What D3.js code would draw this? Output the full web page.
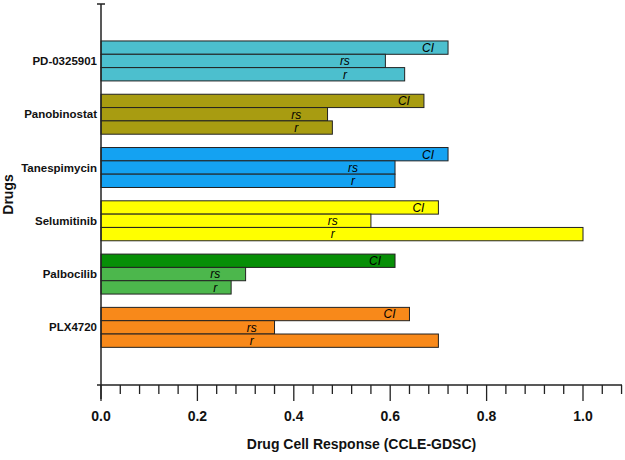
<!DOCTYPE html>
<html>
<head>
<meta charset="utf-8">
<script src="https://cdn.jsdelivr.net/npm/d3@7"></script>
<style>
  html, body { margin: 0; padding: 0; background: #fff; }
  svg { display: block; font-family: "Liberation Sans", Arial, sans-serif; }
</style>
</head>
<body>
<svg id="chart" width="625" height="460"></svg>
<script>
// ---- data ----
const drugs = ["PD-0325901", "Panobinostat", "Tanespimycin", "Selumitinib", "Palbocilib", "PLX4720"];
const measures = ["CI", "rs", "r"];
const ciValues = [0.72, 0.67, 0.72, 0.70, 0.61, 0.64];
const rsValues = [0.59, 0.47, 0.61, 0.56, 0.30, 0.36];
const rValues  = [0.63, 0.48, 0.61, 1.00, 0.27, 0.70];
const xTicks = [0.0, 0.2, 0.4, 0.6, 0.8, 1.0];
const xTitle = "Drug Cell Response (CCLE-GDSC)";
const yTitle = "Drugs";

// colours per drug: [CI colour, rs/r colour]
const drugColors = [
  ["#4cbfce", "#4cbfce"],
  ["#a89c11", "#a89c11"],
  ["#14a2f2", "#14a2f2"],
  ["#ffff00", "#ffff00"],
  ["#078f07", "#4cb74c"],
  ["#f8891a", "#f8891a"]
];

const rows = [];
drugs.forEach((d, i) => {
  const vals = [ciValues[i], rsValues[i], rValues[i]];
  measures.forEach((m, j) => rows.push({ drug: d, di: i, measure: m, value: vals[j] }));
});

const svg = d3.select("#chart");
const x0 = 101, xRight = 622, yTop = 4, yBottom = 385;

const x = d3.scaleLinear().domain([0, 1]).range([x0, 583]);
const xMax = x.invert(xRight);

const y = d3.scaleBand().domain(drugs).range([34.3, 354]).paddingInner(0.25).paddingOuter(0.125);
const yInner = d3.scaleBand().domain(measures).range([0, y.bandwidth()]);

// bars
const g = svg.append("g");
g.selectAll("rect.bar").data(rows).enter().append("rect")
  .attr("class", "bar")
  .attr("x", x(0))
  .attr("y", d => y(d.drug) + yInner(d.measure))
  .attr("width", d => x(d.value) - x(0))
  .attr("height", yInner.bandwidth())
  .attr("fill", d => d.measure === "CI" ? drugColors[d.di][0] : drugColors[d.di][1])
  .attr("stroke", "#222")
  .attr("stroke-width", 1);

// in-bar labels
g.selectAll("text.ci").data(rows.filter(r => r.measure === "CI")).enter().append("text")
  .attr("x", d => x(d.value) - 14)
  .attr("y", d => y(d.drug) + yInner("CI") + yInner.bandwidth() / 2)
  .attr("dy", "0.36em")
  .attr("text-anchor", "end")
  .attr("font-size", 12)
  .attr("font-style", "italic")
  .attr("fill", "#000")
  .text("CI");

g.selectAll("text.cor").data(rows.filter(r => r.measure !== "CI")).enter().append("text")
  .attr("x", d => {
    const m = Math.min(rsValues[d.di], rValues[d.di]);
    return x(m * 0.84) + 5;
  })
  .attr("y", d => y(d.drug) + yInner(d.measure) + yInner.bandwidth() / 2)
  .attr("dy", "0.36em")
  .attr("text-anchor", "middle")
  .attr("font-size", 12)
  .attr("font-style", "italic")
  .attr("fill", "#000")
  .text(d => d.measure);

// y axis line with cap
svg.append("line").attr("x1", x0).attr("x2", x0).attr("y1", yTop).attr("y2", yBottom + 14)
  .attr("stroke", "#222").attr("stroke-width", 1.5);
svg.append("line").attr("x1", x0 - 4).attr("x2", x0 + 4).attr("y1", yTop).attr("y2", yTop)
  .attr("stroke", "#222").attr("stroke-width", 1.5);

// category labels
svg.selectAll("text.cat").data(drugs).enter().append("text")
  .attr("x", 97)
  .attr("y", d => y(d) + y.bandwidth() / 2)
  .attr("dy", "0.36em")
  .attr("text-anchor", "end")
  .attr("font-size", 11.5)
  .attr("font-weight", "bold")
  .attr("fill", "#111")
  .text(d => d);

// x axis
const minorTicks = d3.range(0, xMax + 1e-9, 0.04).map(v => +v.toFixed(2));
svg.append("line").attr("x1", x0 - 4).attr("x2", xRight).attr("y1", yBottom).attr("y2", yBottom)
  .attr("stroke", "#222").attr("stroke-width", 1.5);
svg.selectAll("line.tick").data(minorTicks).enter().append("line")
  .attr("x1", d => x(d)).attr("x2", d => x(d))
  .attr("y1", yBottom)
  .attr("y2", d => xTicks.some(t => Math.abs(t - d) < 1e-6) ? yBottom + 16 : yBottom + 9)
  .attr("stroke", "#222").attr("stroke-width", 1.3);

svg.selectAll("text.xt").data(xTicks).enter().append("text")
  .attr("x", d => x(d))
  .attr("y", 421)
  .attr("text-anchor", "middle")
  .attr("font-size", 14)
  .attr("font-weight", "bold")
  .attr("fill", "#111")
  .text(d => d3.format(".1f")(d));

svg.append("text")
  .attr("x", (x0 + xRight) / 2)
  .attr("y", 449)
  .attr("text-anchor", "middle")
  .attr("font-size", 14)
  .attr("font-weight", "bold")
  .attr("fill", "#111")
  .text(xTitle);

svg.append("text")
  .attr("transform", `translate(13, ${(yTop + yBottom) / 2}) rotate(-90)`)
  .attr("text-anchor", "middle")
  .attr("font-size", 14)
  .attr("font-weight", "bold")
  .attr("fill", "#111")
  .text(yTitle);
</script>
</body>
</html>
